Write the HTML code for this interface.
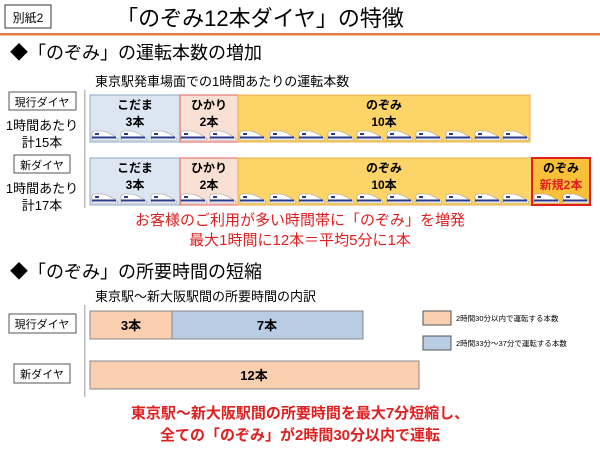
<!DOCTYPE html>
<html><head><meta charset="utf-8"><style>
html,body{margin:0;padding:0;background:#fff;width:600px;height:450px;overflow:hidden}
svg text{font-family:"Liberation Sans","Noto Sans CJK JP",sans-serif}
</style></head><body>
<svg width="600" height="450" viewBox="0 0 600 450" xmlns="http://www.w3.org/2000/svg">
<defs>
<g id="tr">
<path d="M0,10 L0,3 Q0,1 3,1 L11,1 Q19,3 26,9 L26,10 Z" fill="#fff" stroke="#999" stroke-width="0.6"/>
<rect x="0" y="6.5" width="24" height="2" fill="#2a3a8c"/>
<rect x="3" y="3" width="4" height="2" fill="#2a3a8c"/>
</g>
</defs>
<rect x="5" y="5" width="46" height="23" fill="#fff" stroke="#333" stroke-width="1"/>
<text x="28" y="22" font-size="12" text-anchor="middle">別紙2</text>
<text x="260" y="26" font-size="22" text-anchor="middle">「のぞみ12本ダイヤ」の特徴</text>
<rect x="0" y="33" width="600" height="2.5" fill="#e07a40"/>
<text x="10" y="59" font-size="18">◆「のぞみ」の運転本数の増加</text>
<text x="95" y="86" font-size="13">東京駅発車場面での1時間あたりの運転本数</text>

<rect x="9" y="92" width="67" height="18" fill="#fff" stroke="#555"/>
<text x="42" y="106" font-size="11" text-anchor="middle">現行ダイヤ</text>
<text x="42" y="130" font-size="13" text-anchor="middle">1時間あたり</text>
<text x="42" y="147" font-size="13" text-anchor="middle">計15本</text>
<rect x="14" y="155" width="56" height="18" fill="#fff" stroke="#555"/>
<text x="42" y="169" font-size="11" text-anchor="middle">新ダイヤ</text>
<text x="42" y="193" font-size="13" text-anchor="middle">1時間あたり</text>
<text x="42" y="210" font-size="13" text-anchor="middle">計17本</text>
<rect x="84" y="90" width="1.5" height="118" fill="#bbb"/>

<!-- row 1 -->
<rect x="90" y="95" width="90" height="47" fill="#dce6f2" stroke="#8fa8c8"/>
<rect x="180" y="95" width="58" height="47" fill="#f8e0d4" stroke="#e06060"/>
<rect x="238" y="95" width="292" height="47" fill="#fcd468" stroke="#e8b048"/>
<text x="135" y="109" font-size="12" font-weight="bold" text-anchor="middle">こだま</text>
<text x="135" y="126" font-size="12" font-weight="bold" text-anchor="middle">3本</text>
<text x="209" y="109" font-size="12" font-weight="bold" text-anchor="middle">ひかり</text>
<text x="209" y="126" font-size="12" font-weight="bold" text-anchor="middle">2本</text>
<text x="384" y="109" font-size="12" font-weight="bold" text-anchor="middle">のぞみ</text>
<text x="384" y="126" font-size="12" font-weight="bold" text-anchor="middle">10本</text>
<g transform="translate(0,130)">
<use href="#tr" x="92"/><use href="#tr" x="121"/><use href="#tr" x="151"/>
<use href="#tr" x="181"/><use href="#tr" x="210"/>
<use href="#tr" x="240"/><use href="#tr" x="270"/><use href="#tr" x="299"/><use href="#tr" x="328"/><use href="#tr" x="357"/><use href="#tr" x="387"/><use href="#tr" x="416"/><use href="#tr" x="446"/><use href="#tr" x="475"/><use href="#tr" x="503"/>
</g>

<!-- row 2 -->
<rect x="90" y="158" width="90" height="47" fill="#dce6f2" stroke="#8fa8c8"/>
<rect x="180" y="158" width="58" height="47" fill="#f8e0d4" stroke="#e06060"/>
<rect x="238" y="158" width="294" height="47" fill="#fcd468" stroke="#e8b048"/>
<rect x="532" y="158" width="58" height="47" fill="#f8c038" stroke="#e02020" stroke-width="2"/>
<text x="135" y="172" font-size="12" font-weight="bold" text-anchor="middle">こだま</text>
<text x="135" y="189" font-size="12" font-weight="bold" text-anchor="middle">3本</text>
<text x="209" y="172" font-size="12" font-weight="bold" text-anchor="middle">ひかり</text>
<text x="209" y="189" font-size="12" font-weight="bold" text-anchor="middle">2本</text>
<text x="384" y="172" font-size="12" font-weight="bold" text-anchor="middle">のぞみ</text>
<text x="384" y="189" font-size="12" font-weight="bold" text-anchor="middle">10本</text>
<text x="561" y="172" font-size="12" font-weight="bold" text-anchor="middle">のぞみ</text>
<text x="561" y="189" font-size="12" font-weight="bold" fill="#e02020" text-anchor="middle">新規2本</text>
<g transform="translate(0,193)">
<use href="#tr" x="92"/><use href="#tr" x="121"/><use href="#tr" x="151"/>
<use href="#tr" x="181"/><use href="#tr" x="210"/>
<use href="#tr" x="240"/><use href="#tr" x="270"/><use href="#tr" x="299"/><use href="#tr" x="328"/><use href="#tr" x="357"/><use href="#tr" x="387"/><use href="#tr" x="416"/><use href="#tr" x="446"/><use href="#tr" x="475"/><use href="#tr" x="503"/>
<use href="#tr" x="534"/><use href="#tr" x="563"/>
</g>

<text x="300" y="225" font-size="15" fill="#e02020" text-anchor="middle">お客様のご利用が多い時間帯に「のぞみ」を増発</text>
<text x="300" y="245" font-size="15" fill="#e02020" text-anchor="middle">最大1時間に12本＝平均5分に1本</text>

<text x="10" y="278" font-size="18">◆「のぞみ」の所要時間の短縮</text>
<text x="95" y="301" font-size="13">東京駅～新大阪駅間の所要時間の内訳</text>

<rect x="9" y="314" width="67" height="19" fill="#fff" stroke="#555"/>
<text x="42" y="328" font-size="11" text-anchor="middle">現行ダイヤ</text>
<rect x="14" y="364" width="56" height="19" fill="#fff" stroke="#555"/>
<text x="42" y="378" font-size="11" text-anchor="middle">新ダイヤ</text>
<rect x="84" y="305" width="1.5" height="92" fill="#bbb"/>

<rect x="90" y="311" width="82" height="28" fill="#f9cfb0" stroke="#888"/>
<rect x="172" y="311" width="191" height="28" fill="#b8cce4" stroke="#888"/>
<text x="131" y="330" font-size="13" font-weight="bold" text-anchor="middle">3本</text>
<text x="267" y="330" font-size="13" font-weight="bold" text-anchor="middle">7本</text>
<rect x="90" y="361" width="329" height="28" fill="#f9cfb0" stroke="#888"/>
<text x="254" y="380" font-size="13" font-weight="bold" text-anchor="middle">12本</text>

<rect x="423" y="311" width="28" height="14" fill="#f9cfb0" stroke="#555"/>
<text x="456" y="321" font-size="7.5">2時間30分以内で運転する本数</text>
<rect x="423" y="336" width="28" height="14" fill="#b8cce4" stroke="#555"/>
<text x="456" y="346" font-size="7.5">2時間33分～37分で運転する本数</text>

<text x="300" y="418" font-size="15" font-weight="bold" fill="#e02020" text-anchor="middle">東京駅～新大阪駅間の所要時間を最大7分短縮し、</text>
<text x="300" y="440" font-size="15" font-weight="bold" fill="#e02020" text-anchor="middle">全ての「のぞみ」が2時間30分以内で運転</text>
</svg>
</body></html>
